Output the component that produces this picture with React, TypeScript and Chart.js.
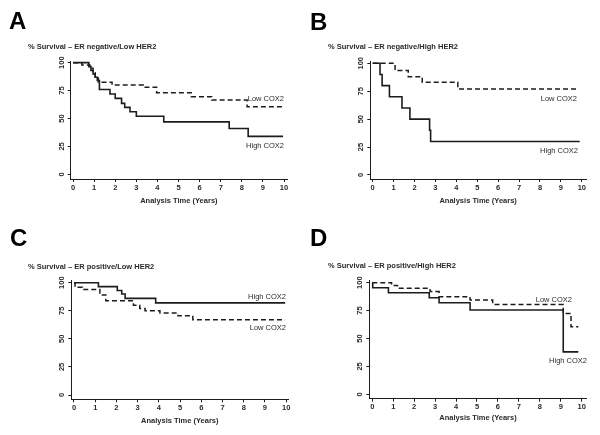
import React, { useEffect, useRef } from "react";
import { Chart, registerables } from "chart.js";

Chart.register(...registerables);

// ---------- shared tick labels / texts ----------
const X_TICKS = [0, 1, 2, 3, 4, 5, 6, 7, 8, 9, 10];
const Y_TICKS = [0, 25, 50, 75, 100];
const X_TITLE = "Analysis Time (Years)";
const HIGH_LABEL = "High COX2";
const LOW_LABEL = "Low COX2";

// ---------- Panel A: ER negative / Low HER2 ----------
const aHighTime = [0, 0.75, 0.85, 0.95, 1.05, 1.15, 1.25, 1.75, 2.0, 2.3, 2.45, 2.7, 3.0, 4.3, 7.4, 8.3, 9.95];
const aHighSurv = [100, 96.5, 93, 90, 87, 84, 76, 72, 68, 63.5, 60, 56, 52, 47, 41, 34, 34];
const aLowTime = [0, 0.42, 0.8, 0.95, 1.05, 1.2, 1.85, 3.33, 3.96, 5.6, 6.57, 8.25, 9.95];
const aLowSurv = [100, 98, 95, 91, 87, 82.5, 80, 78, 73, 69.5, 66.5, 60.5, 60.5];

// ---------- Panel B: ER negative / High HER2 ----------
const bHighTime = [0, 0.35, 0.45, 0.8, 1.4, 1.78, 2.72, 2.77, 9.9];
const bHighSurv = [100, 90, 80, 70, 60, 50, 40, 30, 30];
const bLowTime = [0, 1.07, 1.7, 2.37, 4.07, 9.85];
const bLowSurv = [100, 93.5, 88, 83, 77, 77];

// ---------- Panel C: ER positive / Low HER2 ----------
const cHighTime = [0, 1.15, 2.04, 2.25, 2.41, 3.85, 9.95];
const cHighSurv = [100, 96.5, 93, 90, 86, 82, 82];
const cLowTime = [0, 0.05, 0.4, 1.22, 1.5, 2.8, 3.1, 3.35, 4.05, 4.9, 5.6, 9.95];
const cLowSurv = [100, 96, 94, 89, 84, 80, 77, 75, 73, 70.5, 67, 67];

// ---------- Panel D: ER positive / High HER2 ----------
const dHighTime = [0, 0.02, 0.77, 2.72, 3.19, 4.67, 9.12, 9.84];
const dHighSurv = [100, 95.5, 91, 86.5, 82, 75.5, 38, 38];
const dLowTime = [0, 0.92, 1.2, 2.76, 3.19, 4.67, 5.75, 9.12, 9.49, 9.84];
const dLowSurv = [100, 97.5, 95, 92, 87.5, 84.5, 80.5, 72.5, 60.5, 60.5];

const FONT = "'Liberation Sans', Arial, Helvetica, sans-serif";
const INK = "#1c1c1c";
const TEXT = "#2a2a2a";

type Rect = { left: number; top: number; width: number; height: number };
type Area = { left: number; right: number; top: number; bottom: number };
type CurveLabel = { text: string; right: number; cy: number };

type PanelSpec = {
  letter: string;
  letterPos: { left: number; top: number };
  subtitle: string;
  subtitlePos: { left: number; cy: number };
  box: Rect;
  area: Area;
  xRange: [number, number];
  yRange: [number, number];
  titleGap: number;
  high: [number[], number[]];
  low: [number[], number[]];
  labels: CurveLabel[];
};

const panels: PanelSpec[] = [
  {
    letter: "A",
    letterPos: { left: 9, top: 9 },
    subtitle: "% Survival – ER negative/Low HER2",
    subtitlePos: { left: 28, cy: 46.5 },
    box: { left: 0, top: 0, width: 300, height: 215 },
    area: { left: 70.7, right: 287, top: 61, bottom: 179 },
    xRange: [-0.11, 10.14],
    yRange: [-4.2, 101.5],
    titleGap: 22,
    high: [aHighTime, aHighSurv],
    low: [aLowTime, aLowSurv],
    labels: [
      { text: LOW_LABEL, right: 284, cy: 99.3 },
      { text: HIGH_LABEL, right: 284, cy: 145.7 },
    ],
  },
  {
    letter: "B",
    letterPos: { left: 310, top: 10 },
    subtitle: "% Survival – ER negative/High HER2",
    subtitlePos: { left: 328, cy: 47 },
    box: { left: 300, top: 0, width: 300, height: 215 },
    area: { left: 370.3, right: 586, top: 61.5, bottom: 179 },
    xRange: [-0.115, 10.2],
    yRange: [-3.6, 101.6],
    titleGap: 22,
    high: [bHighTime, bHighSurv],
    low: [bLowTime, bLowSurv],
    labels: [
      { text: LOW_LABEL, right: 577, cy: 99.3 },
      { text: HIGH_LABEL, right: 578, cy: 151 },
    ],
  },
  {
    letter: "C",
    letterPos: { left: 10, top: 226 },
    subtitle: "% Survival – ER positive/Low HER2",
    subtitlePos: { left: 28, cy: 266.5 },
    box: { left: 0, top: 215, width: 300, height: 220 },
    area: { left: 71.3, right: 288.3, top: 280, bottom: 399.3 },
    xRange: [-0.127, 10.1],
    yRange: [-3.8, 102.4],
    titleGap: 21.4,
    high: [cHighTime, cHighSurv],
    low: [cLowTime, cLowSurv],
    labels: [
      { text: HIGH_LABEL, right: 286, cy: 296.7 },
      { text: LOW_LABEL, right: 286, cy: 328.3 },
    ],
  },
  {
    letter: "D",
    letterPos: { left: 310, top: 226 },
    subtitle: "% Survival – ER positive/High HER2",
    subtitlePos: { left: 328, cy: 265.7 },
    box: { left: 300, top: 215, width: 300, height: 220 },
    area: { left: 369.3, right: 586.7, top: 280, bottom: 398.7 },
    xRange: [-0.143, 10.24],
    yRange: [-3.9, 102.4],
    titleGap: 19,
    high: [dHighTime, dHighSurv],
    low: [dLowTime, dLowSurv],
    labels: [
      { text: LOW_LABEL, right: 572, cy: 300 },
      { text: HIGH_LABEL, right: 587, cy: 361 },
    ],
  },
];

const toPoints = (t: number[], s: number[]) => t.map((x, i) => ({ x, y: s[i] }));

function KMPanel({ spec }: { spec: PanelSpec }) {
  const ref = useRef<HTMLCanvasElement>(null);

  useEffect(() => {
    const { box, area } = spec;
    const left = area.left - box.left;
    const right = area.right - box.left;
    const top = area.top - box.top;
    const bottom = area.bottom - box.top;
    const fontSize = 7.5;
    const lineH = fontSize * 1.2;
    const axisH = spec.titleGap + lineH / 2;

    const tickFont = { family: FONT, size: fontSize, weight: "bold" as const };
    const gridOpts = {
      display: true,
      drawOnChartArea: false,
      drawTicks: true,
      tickLength: 3,
      color: INK,
      lineWidth: 1,
    };
    const borderOpts = { display: true, color: INK, width: 1 };

    const chart = new Chart(ref.current as HTMLCanvasElement, {
      type: "line",
      data: {
        datasets: [
          {
            label: LOW_LABEL,
            data: toPoints(spec.low[0], spec.low[1]),
            stepped: true,
            borderColor: INK,
            borderWidth: 1.5,
            borderDash: [5, 3],
            pointRadius: 0,
            fill: false,
          },
          {
            label: HIGH_LABEL,
            data: toPoints(spec.high[0], spec.high[1]),
            stepped: true,
            borderColor: INK,
            borderWidth: 1.6,
            pointRadius: 0,
            fill: false,
          },
        ],
      },
      options: {
        animation: false,
        responsive: false,
        maintainAspectRatio: false,
        events: [],
        layout: {
          padding: {
            left: 0,
            right: box.width - right,
            top: top,
            bottom: box.height - bottom - axisH,
          },
        },
        plugins: {
          legend: { display: false },
          tooltip: { enabled: false },
          title: { display: false },
        },
        scales: {
          x: {
            type: "linear",
            min: spec.xRange[0],
            max: spec.xRange[1],
            afterBuildTicks: (s: any) => {
              s.ticks = X_TICKS.map((v) => ({ value: v }));
            },
            afterFit: (s: any) => {
              s.height = axisH;
            },
            grid: gridOpts,
            border: borderOpts,
            ticks: {
              font: tickFont,
              color: TEXT,
              padding: 1,
              maxRotation: 0,
              minRotation: 0,
              autoSkip: false,
            },
            title: {
              display: true,
              text: X_TITLE,
              font: tickFont,
              color: TEXT,
              padding: 0,
            },
          },
          y: {
            type: "linear",
            min: spec.yRange[0],
            max: spec.yRange[1],
            afterBuildTicks: (s: any) => {
              s.ticks = Y_TICKS.map((v) => ({ value: v }));
            },
            afterFit: (s: any) => {
              s.width = left;
            },
            grid: gridOpts,
            border: borderOpts,
            ticks: {
              font: tickFont,
              color: TEXT,
              padding: 0,
              minRotation: 90,
              maxRotation: 90,
              crossAlign: "center",
              autoSkip: false,
            },
          },
        },
      },
    } as any);
    return () => chart.destroy();
  }, [spec]);

  const { box } = spec;
  return (
    <canvas
      ref={ref}
      width={box.width}
      height={box.height}
      style={{
        position: "absolute",
        left: box.left,
        top: box.top,
        width: box.width,
        height: box.height,
        display: "block",
      }}
    />
  );
}

function PanelTexts({ spec }: { spec: PanelSpec }) {
  return (
    <>
      <div
        style={{
          position: "absolute",
          left: spec.letterPos.left,
          top: spec.letterPos.top,
          fontFamily: FONT,
          fontWeight: "bold",
          fontSize: 24,
          lineHeight: "24px",
          color: "#000",
          whiteSpace: "nowrap",
        }}
      >
        {spec.letter}
      </div>
      <div
        style={{
          position: "absolute",
          left: spec.subtitlePos.left,
          top: spec.subtitlePos.cy - 5,
          fontFamily: FONT,
          fontWeight: "bold",
          fontSize: 7.5,
          lineHeight: "10px",
          color: TEXT,
          whiteSpace: "nowrap",
        }}
      >
        {spec.subtitle}
      </div>
      {spec.labels.map((l, i) => (
        <div
          key={i}
          style={{
            position: "absolute",
            left: l.right - 200,
            width: 200,
            top: l.cy - 5,
            textAlign: "right",
            fontFamily: FONT,
            fontSize: 7.5,
            lineHeight: "10px",
            color: TEXT,
            whiteSpace: "nowrap",
          }}
        >
          {l.text}
        </div>
      ))}
    </>
  );
}

export default function App() {
  return (
    <div
      style={{
        position: "absolute",
        left: 0,
        top: 0,
        width: 600,
        height: 435,
        background: "#fff",
        overflow: "hidden",
      }}
    >
      {panels.map((p) => (
        <KMPanel key={p.letter} spec={p} />
      ))}
      {panels.map((p) => (
        <PanelTexts key={"t" + p.letter} spec={p} />
      ))}
    </div>
  );
}
